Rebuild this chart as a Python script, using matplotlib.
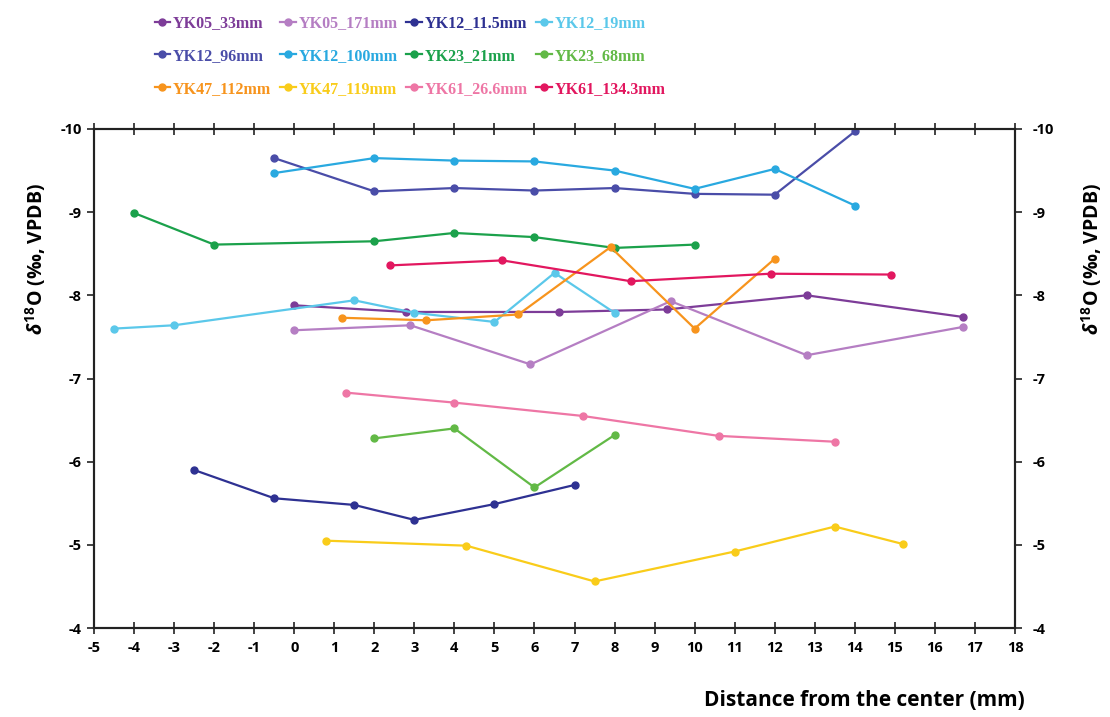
import numpy as np
import matplotlib
matplotlib.use('Agg')
from matplotlib import pyplot as plt

# sample names and line colours
names = ['YK05_33mm', 'YK05_171mm', 'YK12_11.5mm', 'YK12_19mm',
         'YK12_96mm', 'YK12_100mm', 'YK23_21mm', 'YK23_68mm',
         'YK47_112mm', 'YK47_119mm', 'YK61_26.6mm', 'YK61_134.3mm']
colors = ['#7D3C98', '#B57EC3', '#2E3192', '#5BC8EA',
          '#4A4DA8', '#29A9E0', '#1BA14B', '#62B946',
          '#F7941D', '#F9CC1A', '#EE76A5', '#E2175F']

# distance from the center (mm) and d18O (permil, VPDB)
yk05_33_x = [0.0, 2.8, 6.6, 9.3, 12.8, 16.7]
yk05_33_y = [-7.88, -7.80, -7.80, -7.83, -8.00, -7.74]
yk05_171_x = [0.0, 2.9, 5.9, 9.4, 12.8, 16.7]
yk05_171_y = [-7.58, -7.64, -7.17, -7.93, -7.28, -7.62]
yk12_11_x = [-2.5, -0.5, 1.5, 3.0, 5.0, 7.0]
yk12_11_y = [-5.90, -5.56, -5.48, -5.30, -5.49, -5.72]
yk12_19_x = [-4.5, -3.0, 1.5, 3.0, 5.0, 6.5, 8.0]
yk12_19_y = [-7.60, -7.64, -7.94, -7.79, -7.68, -8.27, -7.79]
yk12_96_x = [-0.5, 2, 4, 6, 8, 10, 12, 14]
yk12_96_y = [-9.65, -9.25, -9.29, -9.26, -9.29, -9.22, -9.21, -9.97]
yk12_100_x = [-0.5, 2, 4, 6, 8, 10, 12, 14]
yk12_100_y = [-9.47, -9.65, -9.62, -9.61, -9.50, -9.28, -9.52, -9.08]
yk23_21_x = [-4, -2, 2, 4, 6, 8, 10]
yk23_21_y = [-8.99, -8.61, -8.65, -8.75, -8.70, -8.57, -8.61]
yk23_68_x = [2, 4, 6, 8]
yk23_68_y = [-6.28, -6.40, -5.69, -6.32]
yk47_112_x = [1.2, 3.3, 5.6, 7.9, 10.0, 12.0]
yk47_112_y = [-7.73, -7.70, -7.77, -8.58, -7.60, -8.44]
yk47_119_x = [0.8, 4.3, 7.5, 11.0, 13.5, 15.2]
yk47_119_y = [-5.05, -4.99, -4.56, -4.92, -5.22, -5.01]
yk61_26_x = [1.3, 4.0, 7.2, 10.6, 13.5]
yk61_26_y = [-6.83, -6.71, -6.55, -6.31, -6.24]
yk61_134_x = [2.4, 5.2, 8.4, 11.9, 14.9]
yk61_134_y = [-8.36, -8.42, -8.17, -8.26, -8.25]

xs = [yk05_33_x, yk05_171_x, yk12_11_x, yk12_19_x, yk12_96_x, yk12_100_x,
      yk23_21_x, yk23_68_x, yk47_112_x, yk47_119_x, yk61_26_x, yk61_134_x]
ys = [yk05_33_y, yk05_171_y, yk12_11_y, yk12_19_y, yk12_96_y, yk12_100_y,
      yk23_21_y, yk23_68_y, yk47_112_y, yk47_119_y, yk61_26_y, yk61_134_y]

x_ticks = list(range(-5, 19))
y_ticks = [-10, -9, -8, -7, -6, -5, -4]


def main():
    plt.rcParams['font.family'] = ['Open Sans', 'DejaVu Sans']
    plt.rcParams['font.weight'] = 'bold'
    plt.rcParams['axes.unicode_minus'] = False
    plt.rcParams['mathtext.fontset'] = 'custom'
    plt.rcParams['mathtext.rm'] = 'Open Sans:bold'
    plt.rcParams['mathtext.it'] = 'Open Sans:bold:italic'
    plt.rcParams['mathtext.bf'] = 'Open Sans:bold'

    fig = plt.figure(figsize=(11.1, 7.17), dpi=100)
    ax = fig.add_axes([0.0847, 0.1241, 0.8297, 0.6960])

    handles = []
    for x, y, c, n in zip(xs, ys, colors, names):
        h, = ax.plot(x, y, '-o', color=c, lw=1.6, ms=5, label=n)
        handles.append(h)

    ax.set_xlim(-5, 18)
    ax.set_ylim(-4, -10)
    ax.set_xticks(x_ticks)
    ax.set_yticks(y_ticks)
    ax.tick_params(axis='x', direction='inout', length=9, width=1.2,
                   top=True, labelsize=10.5, pad=5, color='#222222')
    ax.tick_params(axis='y', direction='out', length=5, width=1.2,
                   labelsize=10.5, pad=4, color='#222222')
    for s in ax.spines.values():
        s.set_linewidth(1.5)
        s.set_color('#222222')

    ylab = r'$\delta^{18}$O (‰, VPDB)'
    ax.set_ylabel(ylab, fontsize=14, fontweight='bold', va='center', ha='center')
    ax.yaxis.set_label_coords(-0.064, 0.74)
    ax.set_xlabel('Distance from the center (mm)', fontsize=15, fontweight='bold',
                  va='center', ha='center')
    ax.xaxis.set_label_coords(0.837, -0.145)

    # same scale on the right side
    ax2 = ax.twinx()
    ax2.set_ylim(ax.get_ylim())
    ax2.set_yticks(y_ticks)
    ax2.tick_params(axis='y', direction='out', length=5, width=1.2,
                    labelsize=10.5, pad=8, color='#222222')
    ax2.set_ylabel(ylab, fontsize=14, fontweight='bold', rotation=90,
                   va='center', ha='center')
    ax2.yaxis.set_label_coords(1.0836, 0.74)
    for s in ax2.spines.values():
        s.set_linewidth(1.5)
        s.set_color('#222222')

    # legend rows go across, so reorder for column-major filling
    order = [r * 4 + c for c in range(4) for r in range(3)]
    leg = fig.legend([handles[i] for i in order], [names[i] for i in order],
                     ncol=4, loc='upper left', bbox_to_anchor=(0.132, 0.99),
                     frameon=False, handlelength=1.0, handletextpad=0.15,
                     columnspacing=0.55, labelspacing=1.05, borderpad=0,
                     prop={'family': 'Liberation Serif', 'weight': 'bold', 'size': 11.5})
    for t, i in zip(leg.get_texts(), order):
        t.set_color(colors[i])

    fig.savefig('out.png', dpi=100)


if __name__ == '__main__':
    main()
